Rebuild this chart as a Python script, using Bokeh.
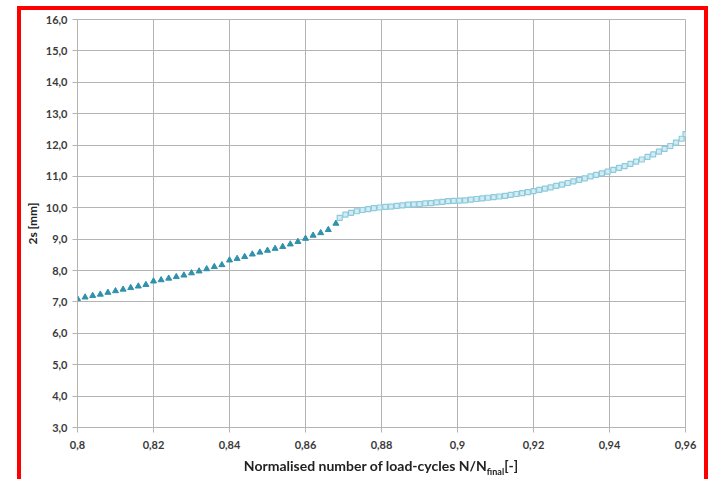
from bokeh.plotting import figure
from bokeh.models import FixedTicker, Range1d, Div
from bokeh.layouts import column
from bokeh.embed import file_html
from bokeh.resources import INLINE

# Series 1 (triangles)
tri_x = [0.800, 0.802, 0.804, 0.806, 0.808, 0.810, 0.812, 0.814, 0.816, 0.818,
         0.820, 0.822, 0.824, 0.826, 0.828, 0.830, 0.832, 0.834, 0.836, 0.838,
         0.840, 0.842, 0.844, 0.846, 0.848, 0.850, 0.852, 0.854, 0.856, 0.858,
         0.860, 0.862, 0.864, 0.866, 0.868]
tri_y = [7.10, 7.15, 7.20, 7.24, 7.30, 7.35, 7.40, 7.45, 7.50, 7.55,
         7.66, 7.70, 7.75, 7.80, 7.85, 7.92, 7.98, 8.05, 8.12, 8.18,
         8.33, 8.38, 8.44, 8.52, 8.58, 8.64, 8.70, 8.76, 8.84, 8.92,
         9.02, 9.12, 9.20, 9.30, 9.50]

# Series 2 (squares)
sq_x = [0.8690, 0.8705, 0.8720, 0.8735, 0.8750, 0.8765, 0.8780, 0.8795, 0.8810, 0.8825,
        0.8840, 0.8855, 0.8870, 0.8885, 0.8900, 0.8915, 0.8930, 0.8945, 0.8960, 0.8975,
        0.8990, 0.9005, 0.9020, 0.9035, 0.9050, 0.9065, 0.9080, 0.9095, 0.9110, 0.9125,
        0.9140, 0.9155, 0.9170, 0.9185, 0.9200, 0.9215, 0.9230, 0.9245, 0.9260, 0.9275,
        0.9290, 0.9305, 0.9320, 0.9335, 0.9350, 0.9365, 0.9380, 0.9395, 0.9410, 0.9425,
        0.9440, 0.9455, 0.9470, 0.9485, 0.9500, 0.9515, 0.9530, 0.9545, 0.9560, 0.9575,
        0.9590, 0.9600]
sq_y = [9.68, 9.78, 9.84, 9.89, 9.93, 9.96, 9.99, 10.01, 10.03, 10.04,
        10.06, 10.08, 10.10, 10.11, 10.12, 10.14, 10.15, 10.17, 10.19, 10.21,
        10.22, 10.23, 10.24, 10.26, 10.28, 10.30, 10.32, 10.34, 10.36, 10.38,
        10.41, 10.44, 10.47, 10.50, 10.53, 10.57, 10.61, 10.65, 10.70, 10.74,
        10.79, 10.84, 10.89, 10.94, 11.00, 11.05, 11.10, 11.15, 11.21, 11.27,
        11.33, 11.40, 11.47, 11.54, 11.62, 11.70, 11.79, 11.88, 11.97, 12.08,
        12.20, 12.35]

x_ticks = [0.80, 0.82, 0.84, 0.86, 0.88, 0.90, 0.92, 0.94, 0.96]
x_tick_labels = ["0,8", "0,82", "0,84", "0,86", "0,88", "0,9", "0,92", "0,94", "0,96"]
y_ticks = [3, 4, 5, 6, 7, 8, 9, 10, 11, 12, 13, 14, 15, 16]
y_tick_labels = ["3,0", "4,0", "5,0", "6,0", "7,0", "8,0", "9,0", "10,0", "11,0",
                 "12,0", "13,0", "14,0", "15,0", "16,0"]

x_title = "Normalised number of load-cycles N/N"
x_title_sub = "final"
x_title_end = "[-]"
y_title = "2s [mm]"

FONT = "Lato"
TXT = "#3b3b3b"
GRID = "#b4b4b4"

p = figure(width=710, height=470, output_backend="svg", toolbar_location=None,
           x_range=Range1d(0.8, 0.96), y_range=Range1d(3, 16),
           min_border_left=77, min_border_right=25, min_border_top=19, min_border_bottom=43)
p.background_fill_color = "white"
p.border_fill_color = "white"
p.outline_line_color = GRID
p.outline_line_width = 1

p.xaxis.ticker = FixedTicker(ticks=x_ticks)
p.yaxis.ticker = FixedTicker(ticks=y_ticks)
p.xaxis.major_label_overrides = dict(zip(x_ticks, x_tick_labels))
p.yaxis.major_label_overrides = dict(zip([float(t) for t in y_ticks], y_tick_labels))
for ax in (p.xaxis, p.yaxis):
    ax.axis_line_color = GRID
    ax.major_tick_line_color = GRID
    ax.major_tick_out = 5
    ax.major_tick_in = 0
    ax.minor_tick_line_color = None
    ax.major_label_text_font = FONT
    ax.major_label_text_font_style = "bold"
    ax.major_label_text_font_size = "11px"
    ax.major_label_text_color = TXT
p.xaxis.major_label_standoff = 8
p.yaxis.major_label_standoff = 5

p.yaxis.axis_label = y_title
p.yaxis.axis_label_text_font = FONT
p.yaxis.axis_label_text_font_style = "bold"
p.yaxis.axis_label_text_font_size = "12px"
p.yaxis.axis_label_text_color = "#222222"
p.yaxis.axis_label_standoff = 3

p.xgrid.grid_line_color = GRID
p.ygrid.grid_line_color = GRID
p.xgrid.grid_line_width = 1
p.ygrid.grid_line_width = 1

p.scatter(tri_x, tri_y, marker="triangle", size=6, fill_color="#2f91ab",
          line_color="#2f91ab")
p.scatter(sq_x, sq_y, marker="square", size=5, fill_color="#d4ebf3",
          line_color="#8ccbdc", line_width=1.2)

# x-axis title (with subscript) and the red frame, as HTML overlays
html = (
    '<div style="position:fixed;left:17px;top:6px;width:691px;height:520px;'
    'border:4px solid red;box-sizing:border-box;pointer-events:none;"></div>'
    '<div style="position:fixed;left:77px;width:608px;top:457px;text-align:center;'
    'font-family:Lato;font-weight:bold;font-size:14px;color:#222222;'
    'white-space:nowrap;line-height:18px;">'
    f'{x_title}<sub style="font-size:9px;line-height:0;">{x_title_sub}</sub>{x_title_end}</div>'
)
d = Div(text=html, width=710, height=9, margin=0)

layout = column(p, d, spacing=0)
open("out.html", "w").write(file_html(layout, INLINE))
